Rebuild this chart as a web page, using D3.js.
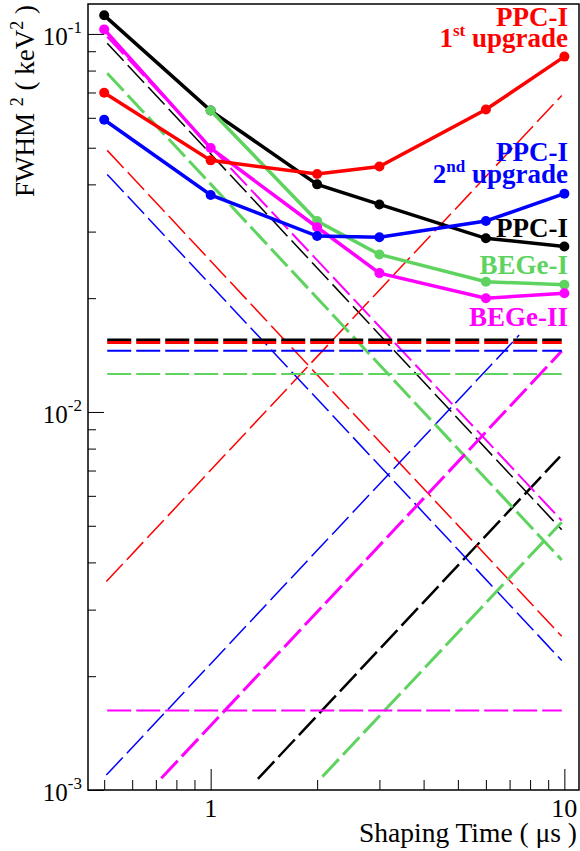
<!DOCTYPE html>
<html>
<head>
<meta charset="utf-8">
<script src="https://cdn.jsdelivr.net/npm/d3@7"></script>
<style>
  body { margin: 0; background: #fff; }
  svg { display: block; }
  text { font-family: "Liberation Serif", "Times New Roman", serif; }
</style>
</head>
<body>
<script>
// measured FWHM^2 (keV^2) vs shaping time (us)
const shapingTime = [0.5, 1, 2, 3, 6, 10];
const begeITime = [1, 2, 3, 6, 10];
const ppcI = [0.112, 0.0627, 0.0400, 0.0354, 0.0288, 0.0274];
const ppcIUp1 = [0.0699, 0.0463, 0.0426, 0.0446, 0.0631, 0.0871];
const ppcIUp2 = [0.0593, 0.0375, 0.0292, 0.0290, 0.0320, 0.0378];
const begeI = [0.0627, 0.0320, 0.0261, 0.0221, 0.0217];
const begeII = [0.1028, 0.0499, 0.0308, 0.0233, 0.0200, 0.0206];

// noise components (dashed), order: PPC-I, 1st upgrade, 2nd upgrade, BEGe-I, BEGe-II
const detectorColors = ['#000000', '#ff0000', '#0000ff', '#5fd35f', '#ff00ff'];
const dashTau = [0.51, 9.83];
const flatLevel = [0.01549, 0.01526, 0.01452, 0.0126, 0.001622];
const seriesStart = [0.0945, 0.0492, 0.0425, 0.0787, 0.0983];
const seriesEnd = [0.00488, 0.00255, 0.0022, 0.00406, 0.00516];
const parallelTau = [[1.36, 9.72], [0.507, 9.83], [0.507, 7.45], [2.07, 9.83], [0.725, 9.83]];
const parallelVal = [[0.00107, 0.00762], [0.00356, 0.0687], [0.001095, 0.01597], [0.001085, 0.00511], [0.001074, 0.01449]];

const xMajor = [1, 10];
const xMinor = [0.5, 0.6, 0.7, 0.8, 0.9, 2, 3, 4, 5, 6, 7, 8, 9];
const yMajor = [0.1, 0.01, 0.001];
const yMajorLabels = ['-1', '-2', '-3'];

const W = 580, H = 851;
const margin = { top: 4, right: 1, bottom: 61, left: 88 };
const width = W - margin.left - margin.right;
const height = H - margin.top - margin.bottom;

const x = d3.scaleLog().domain([0.45, 11]).range([0, width]);
const y = d3.scaleLog().domain([0.001, 0.12]).range([height, 0]);

const svg = d3.select('body').append('svg')
    .attr('width', W)
    .attr('height', H);

svg.append('defs').append('clipPath').attr('id', 'plotclip')
  .append('rect').attr('width', width).attr('height', height);

const g = svg.append('g')
    .attr('transform', `translate(${margin.left},${margin.top})`);

// ticks (inward, ROOT style)
g.append('g').attr('transform', `translate(0,${height})`)
    .call(d3.axisBottom(x).tickValues(xMajor).tickSize(-21).tickFormat(''))
    .call(a => a.select('.domain').remove());
g.append('g').attr('transform', `translate(0,${height})`)
    .call(d3.axisBottom(x).tickValues(xMinor).tickSize(-10).tickFormat(''))
    .call(a => a.select('.domain').remove());

const yMinor = [];
[0.001, 0.01].forEach(d => { for (let k = 2; k <= 9; k++) yMinor.push(d * k); });
g.append('g')
    .call(d3.axisLeft(y).tickValues(yMajor).tickSize(-16).tickFormat(''))
    .call(a => a.select('.domain').remove());
g.append('g')
    .call(d3.axisLeft(y).tickValues(yMinor).tickSize(-8).tickFormat(''))
    .call(a => a.select('.domain').remove());

// dashed noise components
const dashed = g.append('g').attr('clip-path', 'url(#plotclip)');
const line = d3.line().x(d => x(d[0])).y(d => y(d[1]));
const flatWidth = [3, 3, 2, 2, 2];
const seriesWidth = [1.5, 1.5, 1.5, 3, 2];
const parallelWidth = [2.5, 1.5, 1.5, 3, 3];

detectorColors.forEach((c, i) => {
  dashed.append('path')
      .attr('d', line([[dashTau[0], seriesStart[i]], [dashTau[1], seriesEnd[i]]]))
      .attr('fill', 'none').attr('stroke', c)
      .attr('stroke-width', seriesWidth[i]).attr('stroke-dasharray', '24,6');
  dashed.append('path')
      .attr('d', line([[parallelTau[i][0], parallelVal[i][0]], [parallelTau[i][1], parallelVal[i][1]]]))
      .attr('fill', 'none').attr('stroke', c)
      .attr('stroke-width', parallelWidth[i]).attr('stroke-dasharray', '24,6');
});
detectorColors.forEach((c, i) => {
  dashed.append('path')
      .attr('d', line([[dashTau[0], flatLevel[i]], [dashTau[1], flatLevel[i]]]))
      .attr('fill', 'none').attr('stroke', c)
      .attr('stroke-width', flatWidth[i]).attr('stroke-dasharray', '24,5');
});

// measured curves
const curves = [
  { t: shapingTime, v: ppcI, c: detectorColors[0] },
  { t: begeITime, v: begeI, c: detectorColors[3] },
  { t: shapingTime, v: begeII, c: detectorColors[4] },
  { t: shapingTime, v: ppcIUp1, c: detectorColors[1] },
  { t: shapingTime, v: ppcIUp2, c: detectorColors[2] },
];
curves.forEach(cv => {
  const pts = cv.t.map((t, i) => [t, cv.v[i]]);
  g.append('path')
      .attr('d', line(pts))
      .attr('fill', 'none')
      .attr('stroke', cv.c)
      .attr('stroke-width', 3.5);
  g.selectAll(null).data(pts).enter().append('circle')
      .attr('cx', d => x(d[0]))
      .attr('cy', d => y(d[1]))
      .attr('r', 5)
      .attr('fill', cv.c);
});

// frame
g.append('rect')
    .attr('width', width).attr('height', height)
    .attr('fill', 'none').attr('stroke', '#000').attr('stroke-width', 1.5);

// x tick labels
g.selectAll('.xlab').data(xMajor).enter().append('text')
    .attr('x', d => x(d)).attr('y', height + 27)
    .attr('text-anchor', 'middle')
    .attr('font-size', 26)
    .text(d => d);

// y tick labels 10^n
const ylab = g.selectAll('.ylab').data(yMajor).enter().append('text')
    .attr('x', -6).attr('y', d => y(d) + 11)
    .attr('text-anchor', 'end')
    .attr('font-size', 25);
ylab.append('tspan').text('10');
ylab.append('tspan').attr('dy', -12).attr('font-size', 17).text((d, i) => yMajorLabels[i]);

// axis titles
svg.append('text')
    .attr('x', 577).attr('y', 842)
    .attr('text-anchor', 'end')
    .attr('font-size', 27.5)
    .text('Shaping Time ( \u03bcs )');

const yt = svg.append('text')
    .attr('transform', 'translate(34,5) rotate(-90)')
    .attr('text-anchor', 'end')
    .attr('font-size', 27);
yt.append('tspan').text('FWHM ');
yt.append('tspan').attr('dy', -11).attr('font-size', 18).text('2');
yt.append('tspan').attr('dy', 11).text(' ( keV');
yt.append('tspan').attr('dy', -11).attr('font-size', 18).text('2');
yt.append('tspan').attr('dy', 11).text(' )');

// curve labels
const labels = [
  { y: 26, c: detectorColors[1], parts: [['PPC-I']] },
  { y: 47, c: detectorColors[1], parts: [['1'], ['st', 'sup'], [' upgrade']] },
  { y: 161, c: detectorColors[2], parts: [['PPC-I']] },
  { y: 183, c: detectorColors[2], parts: [['2'], ['nd', 'sup'], [' upgrade']] },
  { y: 237, c: detectorColors[0], parts: [['PPC-I']] },
  { y: 274, c: detectorColors[3], parts: [['BEGe-I']] },
  { y: 326, c: detectorColors[4], parts: [['BEGe-II']] },
];
labels.forEach(l => {
  const t = svg.append('text')
      .attr('x', 568).attr('y', l.y)
      .attr('text-anchor', 'end')
      .attr('font-size', 27)
      .attr('font-weight', 'bold')
      .attr('fill', l.c);
  l.parts.forEach(p => {
    if (p[1] === 'sup') {
      t.append('tspan').attr('dy', -11).attr('font-size', 17).text(p[0]);
    } else {
      const s = t.append('tspan').text(p[0]);
      if (t.selectAll('tspan').size() > 2) s.attr('dy', 11);
    }
  });
});
</script>
</body>
</html>
